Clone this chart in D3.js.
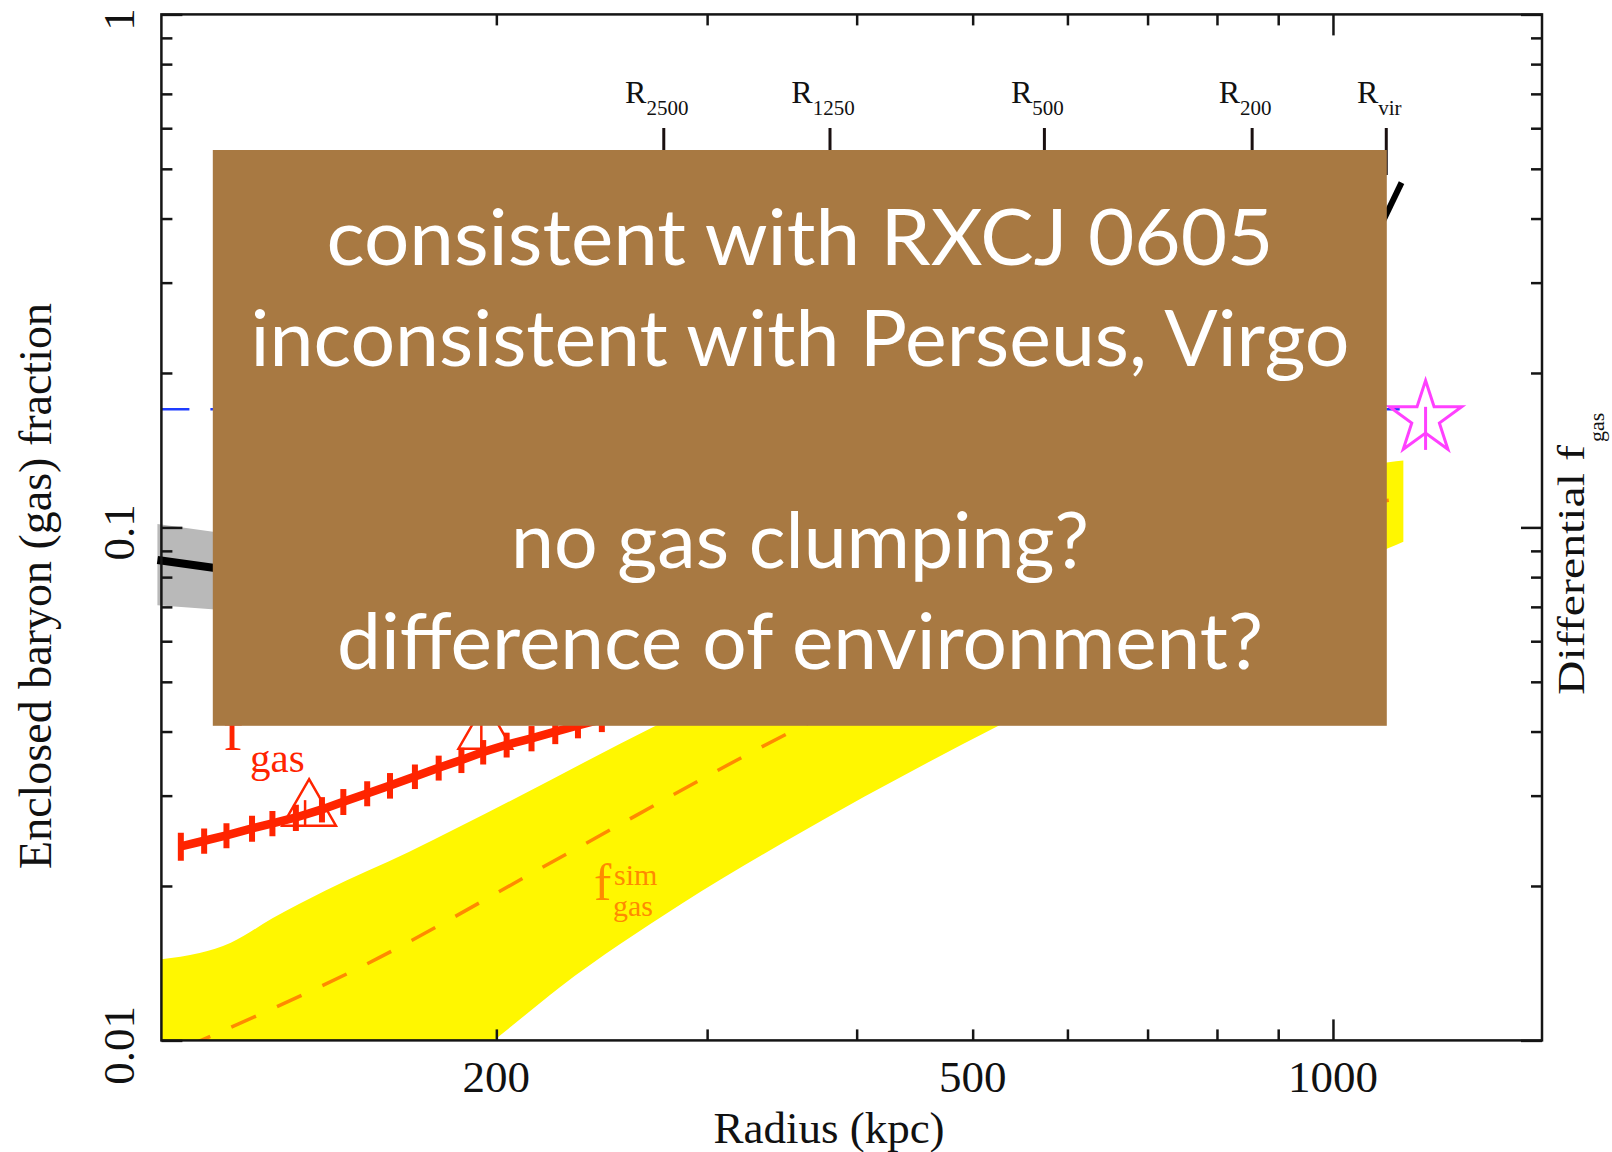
<!doctype html>
<html>
<head>
<meta charset="utf-8"/>
<script src="https://cdnjs.cloudflare.com/ajax/libs/d3/7.8.5/d3.min.js"></script>
<style>
  body { margin: 0; background: #fff; }
  svg { display: block; }
  .tick line { stroke: #151515; stroke-width: 2.5px; }
  .serif { font-family: "Liberation Serif", "Times New Roman", serif; fill: #111; }
  .note { font-family: Lato, "Open Sans", sans-serif; fill: #fff; }
</style>
</head>
<body>
<svg width="1612" height="1152"></svg>
<script>
// ---- data ----
var radiusDomain = [105, 1495];        // kpc
var fracDomain = [0.01, 1];

var xMinorTicks = [200, 300, 400, 500, 600, 700, 800, 900];
var xMajorTicks = [1000];
var xTickLabels = [200, 500, 1000];
var yMinorTicks = [0.02, 0.03, 0.04, 0.05, 0.06, 0.07, 0.08, 0.09, 0.2, 0.3, 0.4, 0.5, 0.6, 0.7, 0.8, 0.9];
var yMajorTicks = [0.01, 0.1, 1];
var yTickLabels = ["0.01", "0.1", "1"];

var overdensity = ["2500", "1250", "500", "200", "vir"];
var overdensityR = [276, 380, 574, 856, 1108];

// measured f_gas with error bars
var fgasR   = [109, 114, 119, 125, 130, 136, 143, 149, 156, 163, 171, 179, 187, 195, 204, 214, 224, 234, 245];
var fgasF   = [0.0239, 0.0245, 0.0251, 0.0259, 0.0265, 0.0272, 0.0282, 0.0292, 0.0303, 0.0314, 0.0327, 0.0340, 0.0352, 0.0365, 0.0377, 0.0388, 0.0400, 0.0411, 0.0423];
var fgasErr = [0.0015, 0.0014, 0.0014, 0.0015, 0.0015, 0.0016, 0.0016, 0.0017, 0.0017, 0.0018, 0.0018, 0.0019, 0.0020, 0.0020, 0.0021, 0.0022, 0.0022, 0.0023, 0.0024];

// open triangles
var triR  = [139.5, 195.8];
var triF  = [0.0281, 0.0397];
var triLo = [0.0262, 0.0370];
var triHi = [0.0294, 0.0415];

// simulated f_gas band and its median
var simUpperR = [105, 113, 120, 130, 144, 169, 206, 254, 272, 1113, 1145];
var simUpperF = [0.0144, 0.0148, 0.0155, 0.0173, 0.0196, 0.0233, 0.0294, 0.0379, 0.0411, 0.134, 0.135];
var simLowerR = [105, 150, 180, 199, 226, 285, 359, 525, 1113, 1145];
var simLowerF = [0.0050, 0.0068, 0.0084, 0.0100, 0.0127, 0.0184, 0.0254, 0.0410, 0.0912, 0.0938];
var simMidR = [110, 155, 229, 359, 1113, 1145];
var simMidF = [0.0097, 0.0140, 0.0231, 0.0408, 0.113, 0.114];

// cosmic baryon fraction
var cosmicF = 0.17;
var cosmicR = [105, 1137];

// enclosed baryon fraction (black) with grey band
var baryonR  = [104.2, 118];
var baryonF  = [0.0864, 0.0830];
var baryonHi = [0.1015, 0.0975];
var baryonLo = [0.0705, 0.0690];

// differential f_gas (black, right)
var diffR = [1080, 1141];
var diffF = [0.36, 0.47];

// star point
var starR = 1195, starF = 0.163, starLo = 0.1416, starHi = 0.1718;

var noteLines = ["consistent with RXCJ 0605", "inconsistent with Perseus, Virgo", "", "no gas clumping?", "difference of environment?"];

// ---- layout ----
var plotLeft = 161.4, plotRight = 1542, plotTop = 14.4, plotBottom = 1040.4;
var svg = d3.select("svg");

var x = d3.scaleLog().domain(radiusDomain).range([plotLeft, plotRight]);
var y = d3.scaleLog().domain(fracDomain).range([plotBottom, plotTop]);

svg.append("clipPath").attr("id", "plotclip")
  .append("rect").attr("x", plotLeft).attr("y", plotTop).attr("width", plotRight - plotLeft).attr("height", plotBottom - plotTop);

var plot = svg.append("g").attr("clip-path", "url(#plotclip)");

function pts(rs, fs) { return rs.map(function(r, i) { return [r, fs[i]]; }); }
var line = d3.line().x(function(d) { return x(d[0]); }).y(function(d) { return y(d[1]); });
var smooth = d3.line().x(function(d) { return x(d[0]); }).y(function(d) { return y(d[1]); }).curve(d3.curveMonotoneX);

// yellow band
var upperPath = smooth(pts(simUpperR, simUpperF));
var lowerPath = smooth(pts(simLowerR, simLowerF).reverse());
plot.append("path").attr("d", upperPath + "L" + lowerPath.slice(1) + "Z").attr("fill", "#fff700");

plot.append("path").attr("d", smooth(pts(simMidR, simMidF)))
  .attr("fill", "none").attr("stroke", "#ff8a00").attr("stroke-width", 3.5)
  .attr("stroke-dasharray", "27,23");

// f_gas^sim label
svg.append("text").attr("x", 594).attr("y", 900).attr("class", "serif")
  .style("fill", "#ff8a00").style("font-size", "52px").text("f");
svg.append("text").attr("x", 614).attr("y", 885).attr("class", "serif")
  .style("fill", "#ff8a00").style("font-size", "30px").text("sim");
svg.append("text").attr("x", 613).attr("y", 916).attr("class", "serif")
  .style("fill", "#ff8a00").style("font-size", "30px").text("gas");

// cosmic fraction
svg.append("path").attr("d", line(cosmicR.map(function(r) { return [r, cosmicF]; })))
  .attr("stroke", "#1e3cff").attr("stroke-width", 2.5).attr("stroke-dasharray", "28,21").attr("fill", "none");

// grey band and black line
var grey = pts(baryonR, baryonHi).concat(pts(baryonR, baryonLo).reverse());
svg.append("path").attr("d", line(grey) + "Z").attr("fill", "#b9b9b9");
svg.append("path").attr("d", line(pts(baryonR, baryonF)))
  .attr("stroke", "#000").attr("stroke-width", 8).attr("fill", "none");

svg.append("path").attr("d", line(pts(diffR, diffF)))
  .attr("stroke", "#000").attr("stroke-width", 6).attr("fill", "none");

// measured f_gas
var red = "#ff2400";
plot.append("path").attr("d", line(pts(fgasR, fgasF)))
  .attr("stroke", red).attr("stroke-width", 8.5).attr("fill", "none");
plot.selectAll("line.err").data(fgasR).enter().append("line")
  .attr("x1", function(d) { return x(d); }).attr("x2", function(d) { return x(d); })
  .attr("y1", function(d, i) { return y(fgasF[i] - fgasErr[i]); })
  .attr("y2", function(d, i) { return y(fgasF[i] + fgasErr[i]); })
  .attr("stroke", red).attr("stroke-width", 6);

var tri = d3.symbol(d3.symbolTriangle, 1248);
svg.selectAll("path.tri").data(triR).enter().append("path")
  .attr("transform", function(d, i) { return "translate(" + x(d) + "," + y(triF[i]) + ")"; })
  .attr("d", tri).attr("fill", "none").attr("stroke", red).attr("stroke-width", 2.5);
svg.selectAll("line.trierr").data(triR).enter().append("line")
  .attr("x1", function(d) { return x(d) - 4; }).attr("x2", function(d) { return x(d) - 4; })
  .attr("y1", function(d, i) { return y(triLo[i]); }).attr("y2", function(d, i) { return y(triHi[i]); })
  .attr("stroke", red).attr("stroke-width", 2.5);

// f_gas label
svg.append("text").attr("x", 223).attr("y", 750).attr("class", "serif")
  .style("fill", red).style("font-size", "60px").text("f");
svg.append("text").attr("x", 250).attr("y", 772).attr("class", "serif")
  .style("fill", red).style("font-size", "41px").text("gas");

// star
var star = d3.symbol(d3.symbolStar, 1621);
svg.append("path").attr("transform", "translate(" + x(starR) + "," + y(starF) + ")")
  .attr("d", star).attr("fill", "none").attr("stroke", "#ff40ff").attr("stroke-width", 3);
svg.append("line").attr("x1", x(starR)).attr("x2", x(starR))
  .attr("y1", y(starHi)).attr("y2", y(starLo)).attr("stroke", "#ff40ff").attr("stroke-width", 3);

// ---- axes ----
function addAxis(axis, tx, ty) {
  svg.append("g").attr("transform", "translate(" + tx + "," + ty + ")")
    .call(axis).call(function(g) { g.select(".domain").remove(); });
}
addAxis(d3.axisBottom(x).tickValues(xMinorTicks).tickSize(-11).tickFormat(""), 0, plotBottom);
addAxis(d3.axisBottom(x).tickValues(xMajorTicks).tickSize(-21).tickFormat(""), 0, plotBottom);
addAxis(d3.axisTop(x).tickValues(xMinorTicks).tickSize(-11).tickFormat(""), 0, plotTop);
addAxis(d3.axisTop(x).tickValues(xMajorTicks).tickSize(-21).tickFormat(""), 0, plotTop);
addAxis(d3.axisLeft(y).tickValues(yMinorTicks).tickSize(-11).tickFormat(""), plotLeft, 0);
addAxis(d3.axisLeft(y).tickValues(yMajorTicks).tickSize(-21).tickFormat(""), plotLeft, 0);
addAxis(d3.axisRight(y).tickValues(yMinorTicks).tickSize(-11).tickFormat(""), plotRight, 0);
addAxis(d3.axisRight(y).tickValues(yMajorTicks).tickSize(-21).tickFormat(""), plotRight, 0);

svg.append("rect").attr("x", plotLeft).attr("y", plotTop).attr("width", plotRight - plotLeft).attr("height", plotBottom - plotTop)
  .attr("fill", "none").attr("stroke", "#151515").attr("stroke-width", 2.5);

svg.selectAll("text.xl").data(xTickLabels).enter().append("text")
  .attr("class", "serif").attr("x", function(d) { return x(d); }).attr("y", 1092)
  .attr("text-anchor", "middle").style("font-size", "45px").text(function(d) { return d; });

svg.selectAll("text.yl").data(yMajorTicks).enter().append("text")
  .attr("class", "serif")
  .attr("transform", function(d) { return "translate(134," + (y(d) + 5) + ") rotate(-90)"; })
  .attr("text-anchor", "middle").style("font-size", "45px")
  .text(function(d, i) { return yTickLabels[i]; });

svg.append("text").attr("class", "serif").attr("x", 829).attr("y", 1143)
  .attr("text-anchor", "middle").style("font-size", "45px").text("Radius (kpc)");
svg.append("text").attr("class", "serif").attr("transform", "translate(51,586) rotate(-90)")
  .attr("text-anchor", "middle").style("font-size", "46px").text("Enclosed baryon (gas) fraction");
svg.append("text").attr("class", "serif").attr("transform", "translate(1584,695) rotate(-90)")
  .attr("textLength", 250).attr("lengthAdjust", "spacingAndGlyphs")
  .style("font-size", "38px").text("Differential f");
svg.append("text").attr("class", "serif").attr("transform", "translate(1604,442) rotate(-90)")
  .style("font-size", "22px").text("gas");

// overdensity radii markers
var marks = svg.selectAll("g.mark").data(overdensityR).enter().append("g");
marks.append("line").attr("x1", function(d) { return x(d); }).attr("x2", function(d) { return x(d); })
  .attr("y1", 128).attr("y2", 175).attr("stroke", "#1a1010").attr("stroke-width", 3);
var mt = marks.append("text").attr("class", "serif")
  .attr("x", function(d) { return x(d) - 7; }).attr("y", 103)
  .attr("text-anchor", "middle").style("font-size", "32px");
mt.append("tspan").text("R");
mt.append("tspan").attr("dy", 12).style("font-size", "21px").text(function(d, i) { return overdensity[i]; });

// ---- overlay box ----
svg.append("rect").attr("x", 212.8).attr("y", 150).attr("width", 1174).attr("height", 575.8).attr("fill", "#a87942");
var noteWidths = [947, 1099, 0, 578, 926];
noteLines.forEach(function(t, i) {
  if (!t) return;
  svg.append("text").attr("class", "note").attr("x", 800).attr("y", 265 + i * 101)
    .attr("text-anchor", "middle").style("font-size", "77px")
    .attr("textLength", noteWidths[i]).attr("lengthAdjust", "spacingAndGlyphs").text(t);
});
</script>
</body>
</html>
